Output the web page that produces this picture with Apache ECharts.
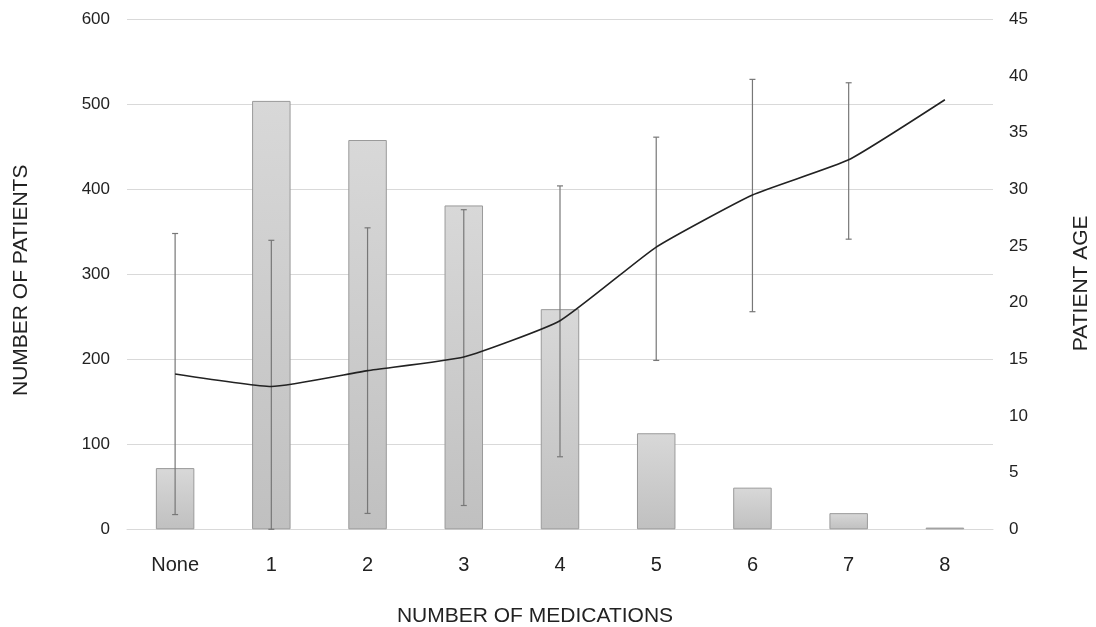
<!DOCTYPE html>
<html>
<head>
<meta charset="utf-8">
<script src="https://cdn.jsdelivr.net/npm/echarts@6/dist/echarts.min.js"></script>
<style>
html,body{margin:0;padding:0;background:#fff;}
#chart{width:1096px;height:627px;}
</style>
</head>
<body>
<div id="chart"></div>
<script>
const categories = ['None','1','2','3','4','5','6','7','8'];
const patients = [72, 504, 458, 381, 259, 113, 49, 19, 2];
const meanAge = [13.7, 12.6, 14.0, 15.2, 18.4, 24.9, 29.5, 32.6, 37.9];
const ageLow = [1.3, 0, 1.4, 2.1, 6.4, 14.9, 19.2, 25.6, null];
const ageHigh = [26.1, 25.5, 26.6, 28.2, 30.3, 34.6, 39.7, 39.4, null];
const leftTicks = [0, 100, 200, 300, 400, 500, 600];
const rightTicks = [0, 5, 10, 15, 20, 25, 30, 35, 40, 45];

const errData = categories.map((c, i) => [i, ageLow[i], ageHigh[i]]).filter(d => d[1] != null);

const FONT = 'Liberation Sans, Arial, sans-serif';
const chart = echarts.init(document.getElementById('chart'));
chart.setOption({
  animation: false,
  textStyle: {fontFamily: FONT},
  grid: {left: 127, right: 103, top: 19.3, bottom: 97.7, containLabel: false, outerBoundsMode: 'none'},
  xAxis: {
    type: 'category',
    data: categories,
    axisTick: {show: false},
    axisLine: {lineStyle: {color: '#d9d9d9'}},
    axisLabel: {color: '#222', fontSize: 20, margin: 26, fontFamily: FONT},
    name: 'NUMBER OF MEDICATIONS',
    nameLocation: 'middle',
    nameGap: 76,
    nameTextStyle: {color: '#222', fontSize: 21, fontFamily: FONT, padding: [0, 50, 0, 0]}
  },
  yAxis: [{
    type: 'value',
    min: leftTicks[0], max: leftTicks[leftTicks.length-1], interval: 100,
    axisLine: {show: false}, axisTick: {show: false},
    axisLabel: {color: '#222', fontSize: 17, margin: 17, fontFamily: FONT},
    splitLine: {lineStyle: {color: '#d9d9d9', width: 1}},
    name: 'NUMBER OF PATIENTS',
    nameLocation: 'middle',
    nameGap: 95.5,
    nameTextStyle: {color: '#222', fontSize: 21, fontFamily: FONT, padding: [0, 12, 0, 0]}
  }, {
    type: 'value',
    min: rightTicks[0], max: rightTicks[rightTicks.length-1], interval: 5,
    axisLine: {show: false}, axisTick: {show: false},
    axisLabel: {color: '#222', fontSize: 17, margin: 16, fontFamily: FONT},
    splitLine: {show: false},
    name: 'PATIENT AGE',
    nameLocation: 'middle',
    nameGap: 78,
    nameTextStyle: {color: '#222', fontSize: 21, fontFamily: FONT, padding: [0, 18, 0, 0]}
  }],
  series: [{
    type: 'bar',
    data: patients,
    barWidth: '40%',
    itemStyle: {
      color: new echarts.graphic.LinearGradient(0, 0, 0, 1, [
        {offset: 0, color: '#d8d8d8'}, {offset: 1, color: '#c0c0c0'}
      ]),
      borderColor: '#9a9a9a', borderWidth: 1
    }
  }, {
    type: 'line',
    yAxisIndex: 1,
    data: meanAge,
    symbol: 'none',
    smooth: 0.15,
    lineStyle: {color: '#222', width: 1.6},
    z: 5
  }, {
    type: 'custom',
    yAxisIndex: 1,
    data: errData,
    z: 4,
    renderItem: function (params, api) {
      const x = api.value(0);
      const lo = api.coord([x, api.value(1)]);
      const hi = api.coord([x, api.value(2)]);
      const cap = 3;
      const style = {stroke: '#777', lineWidth: 1.2};
      return {
        type: 'group',
        children: [
          {type: 'line', shape: {x1: lo[0], y1: lo[1], x2: hi[0], y2: hi[1]}, style: style},
          {type: 'line', shape: {x1: hi[0]-cap, y1: hi[1], x2: hi[0]+cap, y2: hi[1]}, style: style},
          {type: 'line', shape: {x1: lo[0]-cap, y1: lo[1], x2: lo[0]+cap, y2: lo[1]}, style: style}
        ]
      };
    }
  }]
});
</script>
</body>
</html>
